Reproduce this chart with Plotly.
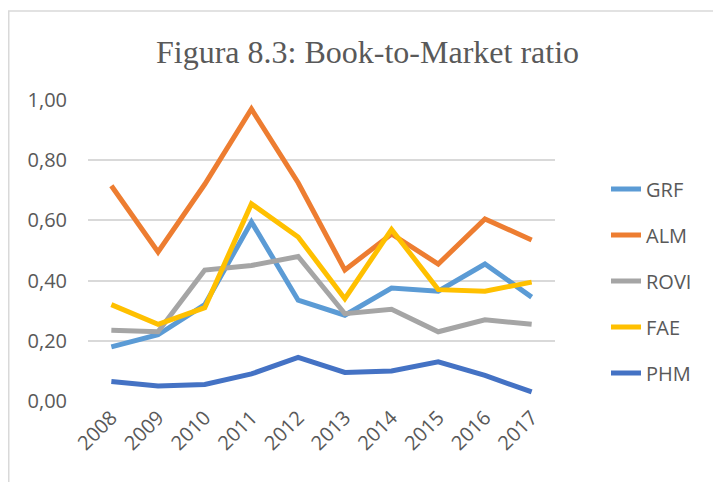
import plotly.graph_objects as go

years = ["2008", "2009", "2010", "2011", "2012", "2013", "2014", "2015", "2016", "2017"]
grf = [0.18, 0.22, 0.32, 0.595, 0.335, 0.285, 0.375, 0.365, 0.455, 0.345]
alm = [0.715, 0.495, 0.72, 0.97, 0.725, 0.435, 0.555, 0.455, 0.605, 0.535]
rovi = [0.235, 0.23, 0.435, 0.45, 0.48, 0.29, 0.305, 0.23, 0.27, 0.255]
fae = [0.32, 0.255, 0.31, 0.655, 0.545, 0.34, 0.57, 0.37, 0.365, 0.395]
phm = [0.065, 0.05, 0.055, 0.09, 0.145, 0.095, 0.10, 0.13, 0.085, 0.03]
y_ticks = [0.0, 0.2, 0.4, 0.6, 0.8, 1.0]
y_tick_labels = ["0,00", "0,20", "0,40", "0,60", "0,80", "1,00"]

series = [
    ("GRF", grf, "#5B9BD5"),
    ("ALM", alm, "#ED7D31"),
    ("ROVI", rovi, "#A5A5A5"),
    ("FAE", fae, "#FFC000"),
    ("PHM", phm, "#4472C4"),
]

fig = go.Figure()
for name, vals, col in series:
    fig.add_trace(go.Scatter(x=years, y=vals, name=name, mode="lines", legendgroup=name,
                             line=dict(color=col, width=5)))

font_sans = "Open Sans, Liberation Sans, sans-serif"
L, T, PW, PH = 80, 92, 467, 301
fig.update_layout(
    width=721, height=482,
    margin=dict(l=L, r=721 - L - PW, t=T, b=482 - T - PH),
    paper_bgcolor="white", plot_bgcolor="white",
    title=dict(text="Figura 8.3: Book-to-Market ratio", x=359.5 / 721, xanchor="center",
               y=1 - 44 / 482, yanchor="middle",
               font=dict(family="Liberation Serif, Times New Roman, serif", size=32, color="#595959")),
    showlegend=True,
    legend=dict(x=(598 - L) / PW, xanchor="left", y=(T + PH - 273) / PH, yanchor="middle",
                font=dict(family=font_sans, size=20, color="#595959"),
                tracegroupgap=17, bgcolor="rgba(0,0,0,0)"),
    xaxis=dict(type="category", range=[-0.5, 9.5], showgrid=False, zeroline=False,
               showline=False, ticks="", tickangle=-45,
               tickfont=dict(family=font_sans, size=20, color="#595959")),
    yaxis=dict(range=[0, 1.0], tickvals=y_ticks, ticktext=y_tick_labels,
               showgrid=True, gridcolor="#D9D9D9", gridwidth=1.5, zeroline=False,
               showline=False, ticks="", ticklen=0, ticklabelstandoff=20,
               tickfont=dict(family=font_sans, size=20, color="#595959")),
)
fig.add_shape(type="rect", xref="paper", yref="paper",
              x0=(0.75 - L) / PW, x1=1.5, y0=-1.0, y1=(T + PH - 3) / PH,
              line=dict(color="#D9D9D9", width=1.5), layer="below")
fig.write_html("out.html")
